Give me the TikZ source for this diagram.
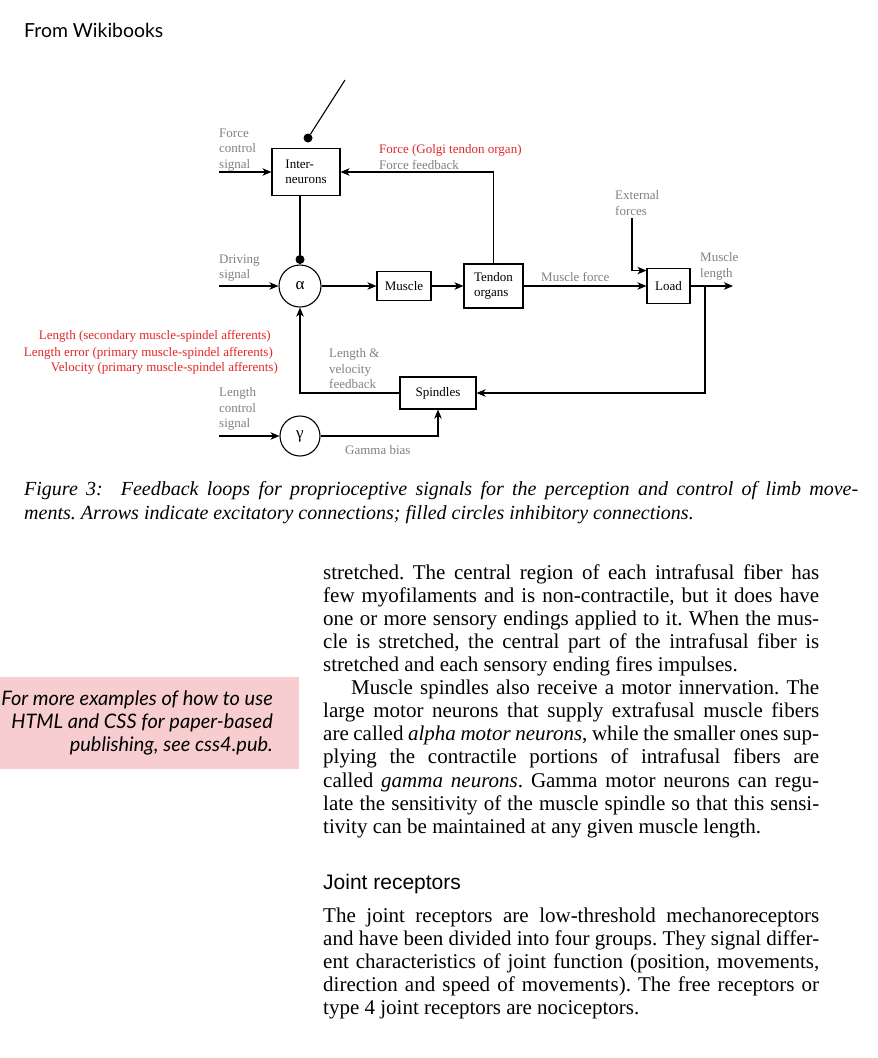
\documentclass[tikz,border=0pt]{standalone}
\usepackage{fontspec}
\setmainfont{Liberation Serif}
\newfontfamily\latofont{Lato}
\newfontfamily\headfont{Liberation Sans}
\usetikzlibrary{arrows.meta}
\frenchspacing

\definecolor{lblgray}{RGB}{128,128,128}
\definecolor{lblred}{RGB}{226,38,38}
\definecolor{notepink}{RGB}{247,205,208}
\newcommand{\dfont}{\fontsize{13}{15.6}\selectfont}
\newcommand{\bfont}{\fontsize{21}{23}\selectfont}

\tikzset{
  blk/.style={draw,line width=1.1pt,inner sep=0pt,font=\dfont},
  junc/.style={draw,circle,line width=1.1pt,inner sep=0pt,font=\fontsize{17}{17}\selectfont},
  lbl/.style={anchor=north west,inner sep=0pt,align=left,text=lblgray,font=\dfont},
  redlbl/.style={inner sep=0pt,text=lblred,font=\dfont},
  wire/.style={line width=1.1pt},
  arr/.style={wire,-{Stealth[length=9pt,width=7.5pt,inset=2.5pt]}},
  inh/.style={circle,fill,inner sep=0pt,minimum size=9pt},
  txt/.style={anchor=base west,inner sep=0pt,font=\bfont},
}

\begin{document}
\begin{tikzpicture}[x=1pt,y=-1pt]
  \useasboundingbox (0,0) rectangle (878,1058);
  \node[anchor=base west,inner sep=0pt,font=\latofont\fontsize{19.4}{22}\selectfont] (src) at (24,37) {From Wikibooks};

  % blocks
  \node[blk,minimum width=68pt,minimum height=47pt,align=left] (inter) at (306,172) {Inter-\\neurons};
  \node[junc,minimum size=42pt] (alpha) at (300,286) {α};
  \node[blk,minimum width=54pt,minimum height=29pt] (muscle) at (404,286) {Muscle};
  \node[blk,minimum width=59pt,minimum height=44pt,align=left] (tendon) at (493.5,286) {Tendon\\organs};
  \node[blk,minimum width=43pt,minimum height=35pt] (load) at (668.5,286) {Load};
  \node[blk,minimum width=76pt,minimum height=32pt] (spindles) at (438,393) {Spindles};
  \node[junc,minimum size=40pt] (gamma) at (300,436) {γ};

  % inhibitory connections
  \node[inh] (idot) at (308,138) {};
  \coordinate (itop) at (345,80);
  \draw[wire] (idot) -- (itop);
  \node[inh] (adot) at (300,259.5) {};
  \draw[wire] (inter.south -| alpha) -- (adot);

  % excitatory connections
  \coordinate (fcsin) at (219,172);
  \coordinate (drvin) at (219,286);
  \coordinate (lcsin) at (219,436);
  \coordinate (extin) at (632,218);
  \coordinate (lenout) at (733,286);
  \coordinate (lentap) at (705,286);
  \draw[arr] (fcsin) -- (inter.west);
  \draw[arr] (drvin) -- (alpha.west);
  \draw[arr] (lcsin) -- (gamma.west);
  \draw[arr] (alpha) -- (muscle);
  \draw[arr] (muscle) -- (tendon);
  \draw[arr] (tendon) -- (load);
  \draw[arr] (tendon.north) |- (inter.east);
  \draw[arr] (extin) |- (load.145);
  \draw[arr] (load) -- (lenout);
  \draw[arr] (lentap) |- (spindles.east);
  \draw[arr] (spindles.west) -| (alpha.south);
  \draw[arr] (gamma.east) -| (spindles.south);

  % labels
  \node[lbl] (fcslbl) at (219,128.5) {Force\\control\\signal};
  \node[redlbl,anchor=base west] (golgi) at (379,153) {Force (Golgi tendon organ)};
  \node[lbl,anchor=base west] (ffblbl) at (379,169) {Force feedback};
  \node[lbl] (drvlbl) at (219,254.5) {Driving\\signal};
  \node[lbl,anchor=base west] (mflbl) at (541,281) {Muscle force};
  \node[lbl] (extlbl) at (615,190.5) {External\\forces};
  \node[lbl] (mllbl) at (700,252.5) {Muscle\\length};
  \node[redlbl,anchor=base east] (aff1) at (271,339) {Length (secondary muscle-spindel afferents)};
  \node[redlbl,anchor=base east] (aff2) at (273,356) {Length error (primary muscle-spindel afferents)};
  \node[redlbl,anchor=base east] (aff3) at (278,371) {Velocity (primary muscle-spindel afferents)};
  \node[lbl] (lvlbl) at (329,348.5) {Length \&\\velocity\\feedback};
  \node[lbl] (lcslbl) at (219,387.5) {Length\\control\\signal};
  \node[lbl,anchor=base west] (gblbl) at (345,454) {Gamma bias};

  % caption
  \node[txt,font=\fontsize{20}{24}\selectfont\itshape] (cap1) at (24,495) {\hbox to 834pt{Figure 3:\hspace{18pt}Feedback loops for proprioceptive signals for the perception and control of limb move-}};
  \node[txt,font=\fontsize{20}{24}\selectfont\itshape] (cap2) at (24,519) {ments. Arrows indicate excitatory connections; filled circles inhibitory connections.};

  % side note
  \node[fill=notepink,anchor=north west,minimum width=299pt,minimum height=92pt,inner sep=0pt] (note) at (0,677) {};
  \node[anchor=north east,inner sep=0pt,align=right,font=\latofont\itshape\fontsize{20}{23}\selectfont] (notetxt) at (273,691) {For more examples of how to use\\HTML and CSS for paper-based\\publishing, see css4.pub.};

  % body text
  \foreach \ly/\lt [count=\i] in {
    579/{stretched. The central region of each intrafusal fiber has},
    602/{few myofilaments and is non-contractile, but it does have},
    625/{one or more sensory endings applied to it. When the mus-},
    648/{cle is stretched, the central part of the intrafusal fiber is},
    671/{stretched and each sensory ending fires impulses.\hfill},
    694/{\hspace{28pt}Muscle spindles also receive a motor innervation. The},
    717/{large motor neurons that supply extrafusal muscle fibers},
    740/{are called \textit{alpha motor neurons}, while the smaller ones sup-},
    763/{plying the contractile portions of intrafusal fibers are},
    787/{called \textit{gamma neurons}. Gamma motor neurons can regu-},
    810/{late the sensitivity of the muscle spindle so that this sensi-},
    833/{tivity can be maintained at any given muscle length.\hfill},
    922/{The joint receptors are low-threshold mechanoreceptors},
    945/{and have been divided into four groups. They signal differ-},
    968/{ent characteristics of joint function (position, movements,},
    991/{direction and speed of movements). The free receptors or},
    1014/{type 4 joint receptors are nociceptors.\hfill}}
    \node[txt] (body\i) at (323,\ly) {\hbox to 496pt{\lt}};
  \node[anchor=base west,inner sep=0pt,font=\headfont\fontsize{21}{24}\selectfont] (head) at (323,889) {Joint receptors};
\end{tikzpicture}
\end{document}
